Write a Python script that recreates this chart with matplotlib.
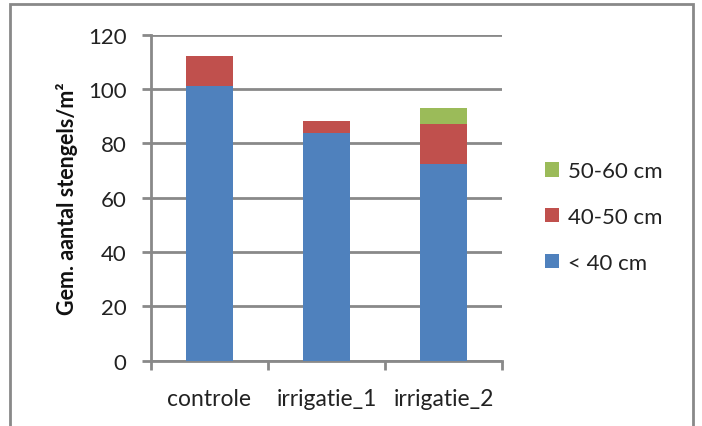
import numpy as np
import matplotlib.pyplot as plt
from matplotlib.patches import Rectangle

plt.rcParams["font.family"] = ["Lato", "DejaVu Sans"]

# Stem counts per treatment, split by stem length class
categories = ["controle", "irrigatie_1", "irrigatie_2"]
under_40 = [101.3, 83.7, 72.3]
from_40_50 = [11.0, 4.4, 14.7]
from_50_60 = [0.0, 0.0, 6.2]
series_labels = ["< 40 cm", "40-50 cm", "50-60 cm"]
series_colors = ["#4F81BD", "#C0504D", "#9BBB59"]
y_ticks = [0, 20, 40, 60, 80, 100, 120]

grid_color = "#898989"

fig = plt.figure(figsize=(7.02, 4.27), dpi=100)
ax = fig.add_axes([151 / 702, 1 - 361.7 / 427, 351 / 702, 326 / 427])

x = np.arange(len(categories))
bottom = np.zeros(len(categories))
handles = []
for values, label, color in zip([under_40, from_40_50, from_50_60], series_labels, series_colors):
    bars = ax.bar(x, values, width=0.4, bottom=bottom, color=color, label=label,
                  edgecolor="none", zorder=3)
    handles.append(bars)
    bottom += np.array(values)

ax.set_xlim(-0.5, 2.5)
ax.set_ylim(0, 120)
ax.set_yticks(y_ticks)
ax.set_yticklabels([str(v) for v in y_ticks])
ax.set_xticks(x)
ax.set_xticklabels(categories)
ax.set_xticks([-0.5, 0.5, 1.5, 2.5], minor=True)

ax.grid(axis="y", color=grid_color, linewidth=2, zorder=0)
ax.set_axisbelow(True)
for side in ["top", "right"]:
    ax.spines[side].set_visible(False)
for side in ["left", "bottom"]:
    ax.spines[side].set_color(grid_color)
    ax.spines[side].set_linewidth(2)

ax.tick_params(axis="y", length=6.5, width=2, color=grid_color, pad=11,
               labelsize=16, labelcolor="#222222")
ax.tick_params(axis="x", which="major", length=0, pad=20, labelsize=16.5,
               labelcolor="#222222")
ax.tick_params(axis="x", which="minor", length=6.5, width=2, color=grid_color)

fig.text(67 / 702, 1 - 198.7 / 427, "Gem. aantal stengels/m²", rotation=90,
         ha="center", va="center", fontsize=15.5, fontweight="bold", color="#111111")

leg = fig.legend(handles[::-1], series_labels[::-1], loc="center left",
                 bbox_to_anchor=(545 / 702, 1 - 218 / 427), frameon=False,
                 fontsize=16, borderpad=0, borderaxespad=0, labelspacing=1.16,
                 handlelength=0.63, handleheight=0.63, handletextpad=0.4)
for t in leg.get_texts():
    t.set_color("#222222")

# chart frame
fig.patches.append(Rectangle((10 / 702, -0.1), 683 / 702, 1.1 - 5 / 427,
                             transform=fig.transFigure, fill=False,
                             edgecolor=grid_color, linewidth=2))

fig.savefig("out.png", dpi=100)
